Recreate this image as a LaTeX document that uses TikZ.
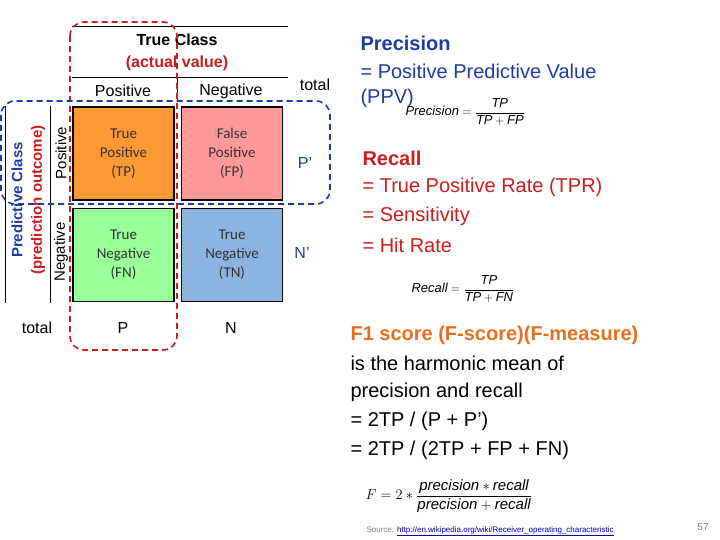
\documentclass[tikz,border=0pt]{standalone}
\usepackage{amsmath}
\usepackage{fontspec}
\setmainfont{Liberation Sans}
\newfontfamily\calfont{Carlito}
\definecolor{cblue}{RGB}{30,60,160}
\definecolor{cred}{RGB}{200,30,30}
\definecolor{corange}{RGB}{230,110,30}
\definecolor{tpc}{RGB}{255,153,51}
\definecolor{fpc}{RGB}{255,153,153}
\definecolor{fnc}{RGB}{153,255,153}
\definecolor{tnc}{RGB}{140,180,225}
\begin{document}
\begin{tikzpicture}[x=1pt,y=-1pt,
 cell/.style={draw=black,line width=1.5pt,minimum width=101pt,minimum height=93pt,align=center,font=\calfont\fontsize{15}{19}\selectfont,text=black!80},
 hdr/.style={font=\fontsize{16}{18}\selectfont},
 big/.style={anchor=west,font=\fontsize{20}{24}\selectfont},
 side/.style={rotate=90,font=\fontsize{15}{17}\selectfont}]
\useasboundingbox (0,0) rectangle (720,540);
\draw (72,26) -- (288,26) (72,77) -- (288,77) (177,77) -- (177,100);
\draw (5,106) -- (5,303) (50,106) -- (50,303);
\node[hdr,font=\bfseries\fontsize{16}{18}\selectfont] (tc) at (177,40) {True Class};
\node[hdr,text=cred,font=\bfseries\fontsize{16}{18}\selectfont] (av) at (177,63) {(actual value)};
\node[hdr] (pos) at (123,91) {Positive};
\node[hdr] (neg) at (231,91) {Negative};
\node[hdr] (tot1) at (315,85) {total};
\node[cell,fill=tpc] (tp) at (123.5,153.5) {True\\Positive\\(TP)};
\node[cell,fill=fpc] (fp) at (232,153.5) {False\\Positive\\(FP)};
\node[cell,fill=fnc] (fn) at (123.5,255) {True\\Negative\\(FN)};
\node[cell,fill=tnc] (tn) at (232,255) {True\\Negative\\(TN)};
\node[hdr,text=cblue] (pp) at (305,163) {P’};
\node[hdr,text=cblue] (np) at (302,253) {N’};
\node[side,text=cblue,font=\bfseries\fontsize{15}{17}\selectfont] (pc) at (17,200) {Predictive Class};
\node[side,text=cred,font=\bfseries\fontsize{15}{17}\selectfont] (po) at (38,200) {(prediction outcome)};
\node[side] (sp) at (61,153) {Positive};
\node[side] (sn) at (61,252) {Negative};
\node[hdr] (tot2) at (37,328) {total};
\node[hdr] (P) at (123,328) {P};
\node[hdr] (N) at (231,328) {N};
\draw[cred,line width=1.6pt,dash pattern=on 6pt off 4pt,rounded corners=14pt] (70,22) rectangle (177,350);
\draw[cblue,line width=1.6pt,dash pattern=on 6pt off 4pt,rounded corners=14pt] (1,101) rectangle (330,204);
\node[big,text=cblue,font=\bfseries\fontsize{20}{24}\selectfont] (prec) at (357,43) {Precision};
\node[big,text=cblue] (ppv1) at (357,71) {= Positive Predictive Value};
\node[big,text=cblue] (ppv2) at (357,98) {(PPV)};
\node[anchor=west,font=\fontsize{13}{15}\selectfont] (f1) at (402,112) {$\mathit{Precision}=\dfrac{\mathit{TP}}{\mathit{TP}+\mathit{FP}}$};
\node[big,text=cred,font=\bfseries\fontsize{20}{24}\selectfont] (rec) at (359,158) {Recall};
\node[big,text=cred] (r1) at (359,187) {= True Positive Rate (TPR)};
\node[big,text=cred] (r2) at (359,216) {= Sensitivity};
\node[big,text=cred] (r3) at (359,245) {= Hit Rate};
\node[anchor=west,font=\fontsize{13}{15}\selectfont] (f2) at (408,289) {$\mathit{Recall}=\dfrac{\mathit{TP}}{\mathit{TP}+\mathit{FN}}$};
\node[big,text=corange,font=\bfseries\fontsize{20}{24}\selectfont] (f1s) at (347,335) {F1 score (F-score)(F-measure)};
\node[big] (l1) at (347,363) {is the harmonic mean of};
\node[big] (l2) at (347,392) {precision and recall};
\node[big] (l3) at (347,421) {= 2TP / (P + P’)};
\node[big] (l4) at (347,450) {= 2TP / (2TP + FP  + FN)};
\node[anchor=west,font=\fontsize{15}{17}\selectfont] (f3) at (362,496) {$F=2*\dfrac{\mathit{precision}*\mathit{recall}}{\mathit{precision}+\mathit{recall}}$};
\node[anchor=west,font=\fontsize{8}{10}\selectfont] (src) at (363,531) {\textcolor{gray}{Source:} \textcolor{blue!70!black}{\underline{http://en.wikipedia.org/wiki/Receiver\_operating\_characteristic}}};
\node[font=\fontsize{10}{12}\selectfont,text=gray] (pg) at (703,527) {57};
\end{tikzpicture}
\end{document}
